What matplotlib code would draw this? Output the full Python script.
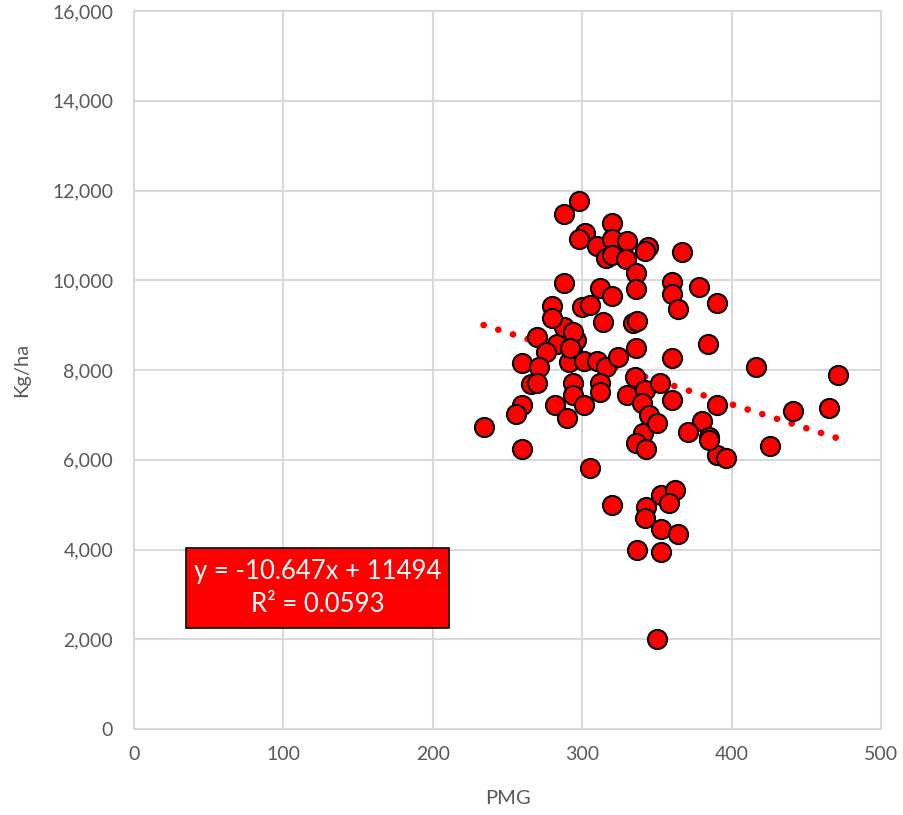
import numpy as np
import matplotlib
matplotlib.use("Agg")
import matplotlib.pyplot as plt
from matplotlib.patches import Rectangle
from matplotlib.ticker import FuncFormatter

plt.rcParams['font.family'] = ['Lato', 'DejaVu Sans']

# PMG (x) and yield Kg/ha (y)
pmg = [270, 283, 276, 260, 271, 266, 270, 260, 256, 234, 260,
       288, 296, 293, 291, 301, 310, 316, 324, 336, 294, 292,
       294, 312, 312, 294, 301, 282, 290, 330, 335, 342, 340, 345, 341, 336, 343, 305, 350,
       298, 288, 320, 302, 298, 310, 320, 330, 344, 342, 316, 320, 329, 336,
       288, 312, 320, 336, 280, 300, 305, 314, 280, 334, 337,
       320, 343, 342, 353, 362, 358, 353, 364, 337, 353, 350, 390, 396,
       367, 360, 378, 360, 390, 364, 384, 360, 416, 471, 352, 360, 390,
       441, 465, 380, 371, 385, 385, 426]
yield_kg = [8740, 8590, 8410, 8160, 8070, 7680, 7700, 7220, 7010, 6720, 6240,
            8965, 8660, 8410, 8180, 8190, 8190, 8070, 8300, 8480, 8850, 8500,
            7720, 7720, 7520, 7440, 7220, 7220, 6930, 7450, 7840, 7550, 7260, 6990, 6590, 6370, 6230, 5820, 6810,
            11770, 11470, 11270, 11060, 10910, 10760, 10910, 10875, 10750, 10650, 10490, 10560, 10470, 10170,
            9950, 9820, 9650, 9800, 9430, 9410, 9450, 9060, 9150, 9040, 9100,
            4990, 4955, 4700, 5210, 5330, 5030, 4450, 4345, 4000, 3940, 2000, 6100, 6040,
            10620, 9970, 9840, 9690, 9500, 9370, 8580, 8260, 8070, 7890, 7700, 7340, 7220,
            7090, 7145, 6870, 6625, 6510, 6440, 6306]

slope = -10.647
intercept = 11494
r2 = 0.0593

fig = plt.figure(figsize=(9.04, 8.15), dpi=100)
ax = fig.add_axes([0.1482, 0.1055, 0.8264, 0.881])

ax.scatter(pmg, yield_kg, s=190, c='#ff0000', edgecolors='black', linewidths=1.5, zorder=3)

# dotted linear trendline
tx = np.array([min(pmg), max(pmg)])
ax.plot(tx, slope * tx + intercept, color='#ff0000', lw=4.8,
        linestyle=(0, (0.01, 2.3)), dash_capstyle='round', zorder=2)

ax.set_xlim(0, 500)
ax.set_ylim(0, 16000)
ax.set_xticks(range(0, 501, 100))
ax.set_yticks(range(0, 16001, 2000))
ax.yaxis.set_major_formatter(FuncFormatter(lambda v, p: f"{int(v):,}"))
ax.tick_params(length=0, labelsize=14, labelcolor='#595959')
ax.tick_params(axis='y', pad=15)
ax.tick_params(axis='x', pad=12)
for s in ax.spines.values():
    s.set_visible(False)
ax.grid(True, color='#d9d9d9', lw=1.5)
ax.set_axisbelow(True)
for gl in ax.get_xgridlines() + ax.get_ygridlines():
    gl.set_clip_on(False)

ax.set_xlabel("PMG", fontsize=14.5, color='#595959', labelpad=20)
ax.set_ylabel("Kg/ha", fontsize=14.5, color='#595959', labelpad=16)

ax.add_patch(Rectangle((0.0696, 0.1407), 0.3521, 0.1114, transform=ax.transAxes,
                       facecolor='#ff0000', edgecolor='black', lw=1.2, zorder=4))
ax.text(0.2457, 0.1964, f"y = {slope}x + {intercept}\nR² = {r2}", transform=ax.transAxes,
        ha='center', va='center', fontsize=18.5, color='white', linespacing=1.4, zorder=5)

fig.savefig("out.png", dpi=100)
